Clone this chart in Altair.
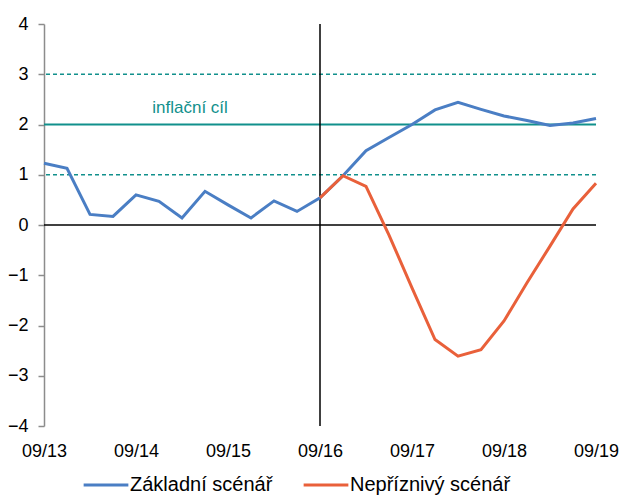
import altair as alt
import pandas as pd

# Quarterly index: 0 = 09/13 ... 24 = 09/19
quarters = list(range(25))
year_labels = ["09/13", "09/14", "09/15", "09/16", "09/17", "09/18", "09/19"]

baseline = [1.23, 1.13, 0.21, 0.17, 0.60, 0.47, 0.14, 0.67, 0.40, 0.14,
            0.48, 0.27, 0.54, 0.98, 1.48, 1.74, 2.00, 2.29, 2.44, 2.30,
            2.17, 2.08, 1.98, 2.03, 2.12]
adverse = [0.54, 0.98, 0.77, -0.20, -1.25, -2.28, -2.61, -2.48, -1.91,
           -1.15, -0.42, 0.32, 0.83]

target = 2.0
band = [1.0, 3.0]
split_q = 12

names = ["Základní scénář", "Nepříznivý scénář"]
colors = ["#4A7EC4", "#E9603A"]
teal = "#11908C"
font = "Liberation Sans"

rows = [{"q": q, "v": v, "s": names[0]} for q, v in zip(quarters, baseline)]
rows += [{"q": q, "v": v, "s": names[1]} for q, v in zip(quarters[split_q:], adverse)]
df = pd.DataFrame(rows)

label_expr = "[" + ",".join(f"'{t}'" for t in year_labels) + "][datum.value/4]"

x_scale = alt.Scale(domain=[0, 24], nice=False, zero=False)
y_scale = alt.Scale(domain=[-4, 4], nice=False)

x_enc = alt.X("q:Q", scale=x_scale, axis=alt.Axis(
    values=[0, 4, 8, 12, 16, 20, 24], labelExpr=label_expr, domain=False,
    ticks=False, grid=False, labelFont=font, labelFontSize=18,
    labelFlush=False, labelOverlap=False, labelBound=False,
    labelColor="#000000", labelPadding=16, title=None))
y_enc = alt.Y("v:Q", scale=y_scale, axis=alt.Axis(
    values=list(range(-4, 5)), domain=True, domainColor="#8C8C8C",
    domainWidth=1.5, ticks=True, tickColor="#8C8C8C", tickSize=6,
    tickWidth=1.5, grid=False, labelFont=font, labelFontSize=18,
    labelFlush=False, labelOverlap=False,
    labelColor="#000000", labelPadding=10, title=None))

refs = pd.DataFrame({"y": [band[0], band[1]]})
dashed = alt.Chart(refs).mark_rule(color=teal, strokeWidth=1.6, strokeDash=[4, 3]).encode(
    y=alt.Y("y:Q", scale=y_scale))
target_line = alt.Chart(pd.DataFrame({"y": [target]})).mark_rule(
    color=teal, strokeWidth=2).encode(y=alt.Y("y:Q", scale=y_scale))
target_text = alt.Chart(pd.DataFrame({"x": [6.35], "y": [2.33], "t": ["inflační cíl"]})).mark_text(
    color=teal, font=font, fontSize=17, align="center", baseline="middle").encode(
    x=alt.X("x:Q", scale=x_scale), y=alt.Y("y:Q", scale=y_scale), text="t:N")
zero_line = alt.Chart(pd.DataFrame({"y": [0]})).mark_rule(
    color="#000000", strokeWidth=1.5).encode(y=alt.Y("y:Q", scale=y_scale))
split_line = alt.Chart(pd.DataFrame({"x": [split_q]})).mark_rule(
    color="#000000", strokeWidth=1.5).encode(x=alt.X("x:Q", scale=x_scale))

lines = alt.Chart(df).mark_line(strokeWidth=3).encode(
    x=x_enc, y=y_enc,
    color=alt.Color("s:N", scale=alt.Scale(domain=names, range=colors),
                    legend=alt.Legend(orient="none", direction="horizontal",
                                      legendX=38, legendY=437, title=None,
                                      symbolType="stroke", symbolStrokeWidth=3,
                                      symbolSize=2000, labelFont=font,
                                      labelFontSize=20, labelColor="#000000",
                                      labelLimit=400, labelOffset=0,
                                      columnPadding=24)),
    order="q:Q")

chart = alt.layer(dashed, target_line, target_text, zero_line, split_line, lines).properties(
    width=552, height=402,
    padding={"left": 44, "top": 24, "right": 28, "bottom": 70},
    autosize=alt.AutoSizeParams(type="none"),
    background="#FFFFFF",
).configure_view(stroke=None)

chart.save("out.html", embed_options={"renderer": "svg", "actions": False})
